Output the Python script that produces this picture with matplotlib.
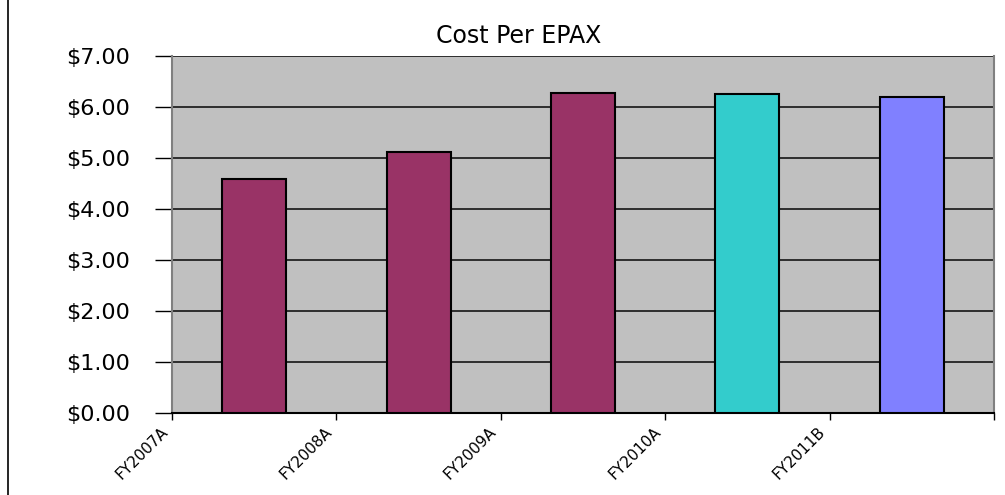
import matplotlib
matplotlib.use("Agg")
from matplotlib import pyplot as plt
from matplotlib.lines import Line2D
import matplotlib.transforms as mtransforms

plt.rcParams["font.family"] = ["DejaVu Sans"]

years = ["FY2007A", "FY2008A", "FY2009A", "FY2010A", "FY2011B"]
cost = [4.58, 5.11, 6.28, 6.26, 6.20]
bar_colors = ["#993366", "#993366", "#993366", "#33CCCC", "#8080FF"]
y_ticks = [0, 1, 2, 3, 4, 5, 6, 7]

fig = plt.figure(figsize=(10.05, 4.95), dpi=100)
ax = fig.add_axes([172 / 1005, 1 - 413 / 495, (994 - 172) / 1005, (413 - 56) / 495])

x = range(len(cost))
ax.bar(x, cost, width=0.39, color=bar_colors, edgecolor="black", linewidth=1.5, zorder=3)

ax.set_facecolor("#C0C0C0")
ax.set_xlim(-0.5, len(cost) - 0.5)
ax.set_ylim(0, 7)

# y axis in dollars, gridlines at every dollar
ax.set_yticks(y_ticks)
ax.set_yticklabels(["${:.2f}".format(v) for v in y_ticks], fontsize=16)
ax.yaxis.grid(True, color="#222222", linewidth=1.3, zorder=1)
ax.tick_params(axis="y", length=12, width=1, pad=18)

# x ticks sit on the category boundaries, labels hang off them at an angle
bounds = [i - 0.5 for i in range(len(cost) + 1)]
ax.set_xticks(bounds)
ax.set_xticklabels(years + [""], rotation=45, ha="right", va="top",
                   rotation_mode="anchor", fontsize=11)
ax.tick_params(axis="x", length=5, width=1, pad=3)
shift = mtransforms.ScaledTranslation(-12 / 100, 0, fig.dpi_scale_trans)
for lbl in ax.get_xticklabels():
    lbl.set_transform(lbl.get_transform() + shift)

for side in ["left", "right"]:
    ax.spines[side].set_color("#808080")
    ax.spines[side].set_linewidth(1.5)
ax.spines["top"].set_visible(False)
ax.spines["bottom"].set_color("black")
ax.spines["bottom"].set_linewidth(1.5)

fig.text(519 / 1005, 1 - 36 / 495, "Cost Per EPAX", ha="center", va="center", fontsize=17)

# chart area border on the left
fig.add_artist(Line2D([8 / 1005, 8 / 1005], [0, 1], color="black", linewidth=1.2))

plt.savefig("out.png", dpi=100)
